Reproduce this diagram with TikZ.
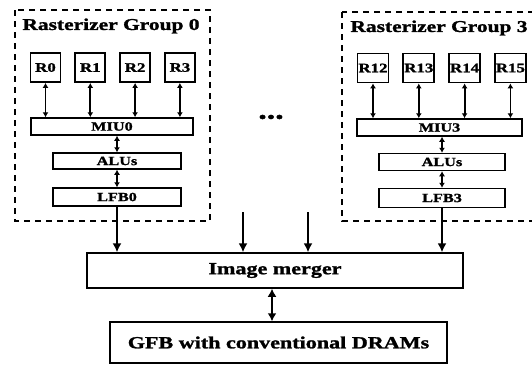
\documentclass[tikz,border=0pt]{standalone}
\usepackage{fontspec}
\setmainfont{Liberation Serif}[FakeStretch=1.3, BoldFeatures={FakeStretch=1.3, FakeBold=1.5}]
\usetikzlibrary{arrows.meta,positioning}
\tikzset{
  rbox/.style  = {rectangle, draw, line width=1.8pt, font=\fontsize{13}{14}\selectfont\bfseries,
                  minimum width=30pt, minimum height=29pt, inner sep=0pt},
  bar/.style   = {rectangle, draw, line width=1.5pt, font=\fontsize{12.5}{13}\selectfont\bfseries,
                  inner sep=0pt, minimum height=17pt},
  big/.style   = {rectangle, draw, line width=1.5pt, font=\fontsize{17}{19}\selectfont\bfseries,
                  inner sep=0pt},
  group/.style = {draw, line width=2.2pt, dash pattern=on 6pt off 5pt},
  title/.style = {font=\fontsize{16.5}{17}\selectfont\bfseries, inner sep=0pt},
  flow/.style  = {-{Latex[length=9pt,width=9pt]}, line width=1.5pt},
  bflow/.style = {{Latex[length=5pt,width=6pt]}-{Latex[length=5pt,width=6pt]}, line width=1.8pt},
  wflow/.style = {{Latex[length=8pt,width=9pt]}-{Latex[length=8pt,width=9pt]}, line width=2pt},
}

\begin{document}
\begin{tikzpicture}[x=1pt, y=-1pt, node distance=13pt]
    \clip (0,0) rectangle (532,365);
    % group 0
    \draw[group] (15,10) rectangle (210,221);
    \node[title] (title0) at (111,26) {Rasterizer Group 0};
    \node[rbox] (r0) at (45.5,67.5) {R0};
    \node[rbox, right=of r0] (r1) {R1};
    \node[rbox, right=of r1] (r2) {R2};
    \node[rbox, right=of r2] (r3) {R3};
    \node[bar, minimum width=162pt] (miu0) at (112,126.5) {MIU0};
    \node[bar, minimum width=128pt, minimum height=16pt] (alu0) at (117,161) {ALUs};
    \node[bar, minimum width=128pt, minimum height=18pt] (lfb0) at (117,197) {LFB0};
    \draw[bflow] (r0) -- (r0 |- miu0.north);
    \draw[bflow] (r1) -- (r1 |- miu0.north);
    \draw[bflow] (r2) -- (r2 |- miu0.north);
    \draw[bflow] (r3) -- (r3 |- miu0.north);
    \draw[bflow] (miu0.south -| alu0) -- (alu0);
    \draw[bflow] (alu0) -- (lfb0);
    % group 3
    \draw[group] (342,12) rectangle (537,221);
    \node[title] (title3) at (439,28) {Rasterizer Group 3};
    \node[rbox, minimum width=31pt] (r12) at (373,68) {R12};
    \node[rbox, minimum width=31pt, right=of r12] (r13) {R13};
    \node[rbox, minimum width=31pt, right=of r13] (r14) {R14};
    \node[rbox, minimum width=31pt, right=of r14] (r15) {R15};
    \node[bar, minimum width=165pt] (miu3) at (439.5,127.5) {MIU3};
    \node[bar, minimum width=126pt] (alu3) at (442,162) {ALUs};
    \node[bar, minimum width=126pt, minimum height=19pt] (lfb3) at (442,198) {LFB3};
    \draw[bflow] (r12) -- (r12 |- miu3.north);
    \draw[bflow] (r13) -- (r13 |- miu3.north);
    \draw[bflow] (r14) -- (r14 |- miu3.north);
    \draw[bflow] (r15) -- (r15 |- miu3.north);
    \draw[bflow] (miu3.south -| alu3) -- (alu3);
    \draw[bflow] (alu3) -- (lfb3);
    % dots between groups
    \node[font=\fontsize{26}{26}\selectfont\bfseries, inner sep=0pt] (dots) at (271,117) {...};
    % merger and frame buffer
    \node[big, minimum width=376pt, minimum height=35pt] (merger) at (275,270.5) {Image merger};
    \node[big, minimum width=337pt, minimum height=41pt] (gfb) at (278.5,342.5) {GFB with conventional DRAMs};
    \coordinate (in1) at (243,212);
    \coordinate (in2) at (308,212);
    \coordinate (link) at (272,300);
    \draw[flow] (lfb0) -- (lfb0 |- merger.north);
    \draw[flow] (in1) -- (in1 |- merger.north);
    \draw[flow] (in2) -- (in2 |- merger.north);
    \draw[flow] (lfb3) -- (lfb3 |- merger.north);
    \draw[wflow] (merger.south -| link) -- (gfb.north -| link);
\end{tikzpicture}
\end{document}
